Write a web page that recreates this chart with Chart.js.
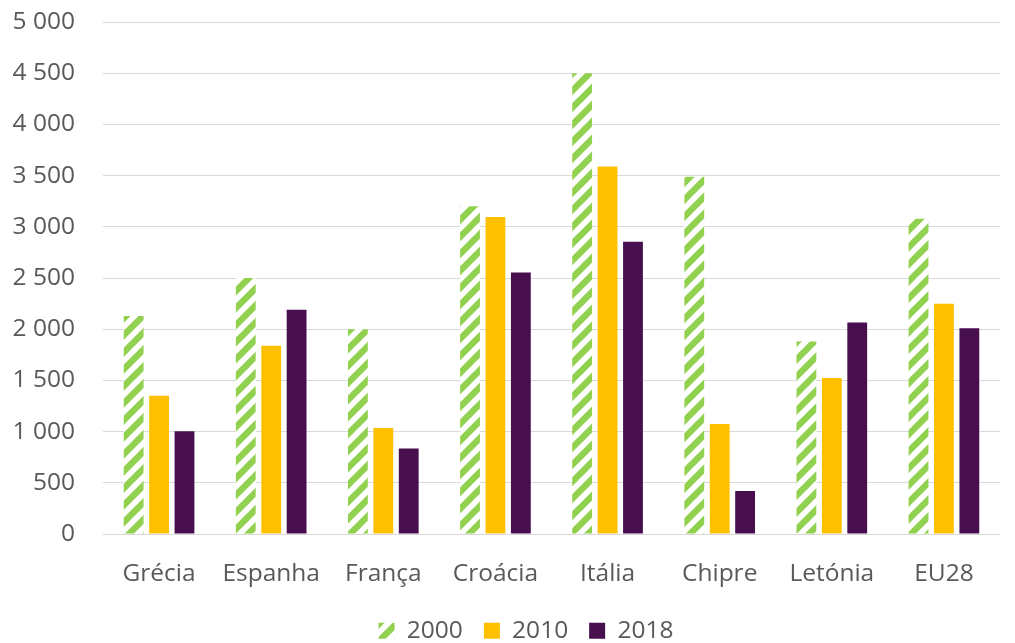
<!DOCTYPE html>
<html>
<head>
<meta charset="utf-8">
<script src="https://cdn.jsdelivr.net/npm/chart.js@4/dist/chart.umd.min.js"></script>
<style>
html,body{margin:0;padding:0;background:#fff;}
#wrap{width:1015px;height:643px;}
</style>
</head>
<body>
<div id="wrap"><canvas id="c" width="1015" height="643"></canvas></div>
<script>
const categories = ['Grécia','Espanha','França','Croácia','Itália','Chipre','Letónia','EU28'];
const seriesNames = ['2000','2010','2018'];
const values2000 = [2130, 2500, 2000, 3200, 4500, 3490, 1880, 3080];
const values2010 = [1350, 1840, 1035, 3095, 3590, 1075, 1525, 2250];
const values2018 = [1005, 2190, 835, 2555, 2855, 420, 2065, 2010];
const yTicks = [0,500,1000,1500,2000,2500,3000,3500,4000,4500,5000];

function makePattern(){
  const s = 17;
  const c = document.createElement('canvas');
  c.width = s; c.height = s;
  const g = c.getContext('2d');
  g.fillStyle = '#ffffff';
  g.fillRect(0,0,s,s);
  g.strokeStyle = '#92D050';
  g.lineWidth = s*0.38;
  g.lineCap = 'square';
  for (let k=-1;k<=1;k++){
    g.beginPath();
    g.moveTo(k*s, s);
    g.lineTo(k*s + s, 0);
    g.stroke();
  }
  return g.createPattern(c, 'repeat');
}
const ctx = document.getElementById('c').getContext('2d');
const pat = makePattern();
const txt = '#595959';
const fam = '"Open Sans", "Noto Sans", sans-serif';
const fs = 24.5;
function fmt(v){ return String(v).replace(/\B(?=(\d{3})+(?!\d))/g, ' '); }

const shiftLegend = {
  id: 'shiftLegend',
  afterLayout(chart){
    if (chart.legend){ chart.legend.left += 26; chart.legend.right += 26; }
  }
};

new Chart(ctx, {
  type: 'bar',
  data: {
    labels: categories,
    datasets: [
      {label: seriesNames[0], data: values2000, backgroundColor: pat, borderWidth: 0},
      {label: seriesNames[1], data: values2010, backgroundColor: '#FFC000', borderWidth: 0},
      {label: seriesNames[2], data: values2018, backgroundColor: '#480F4F', borderWidth: 0}
    ]
  },
  plugins: [shiftLegend],
  options: {
    responsive: false,
    animation: false,
    devicePixelRatio: 1,
    layout: {padding: {top: 0, right: 15, left: 0, bottom: -10}},
    datasets: {bar: {categoryPercentage: 0.68, barPercentage: 0.78}},
    scales: {
      x: {
        grid: {display: false},
        border: {display: false},
        afterFit: (s) => { s.height -= 8; },
        ticks: {color: txt, font: {family: fam, size: fs}, padding: 17}
      },
      y: {
        min: 0, max: 5000,
        afterBuildTicks: (axis) => { axis.ticks = yTicks.map(v => ({value: v})); },
        afterFit: (s) => { s.width = 103; s.paddingTop = 22; },
        grid: {color: '#d9d9d9', lineWidth: 1, drawTicks: false},
        border: {display: false},
        ticks: {color: txt, font: {family: fam, size: fs}, padding: 28, callback: (v) => fmt(v)}
      }
    },
    plugins: {
      legend: {
        position: 'bottom',
        labels: {
          color: txt,
          font: {family: fam, size: fs},
          boxWidth: 16, boxHeight: 16,
          padding: 21
        }
      },
      tooltip: {enabled: false}
    }
  }
});
</script>
</body>
</html>
